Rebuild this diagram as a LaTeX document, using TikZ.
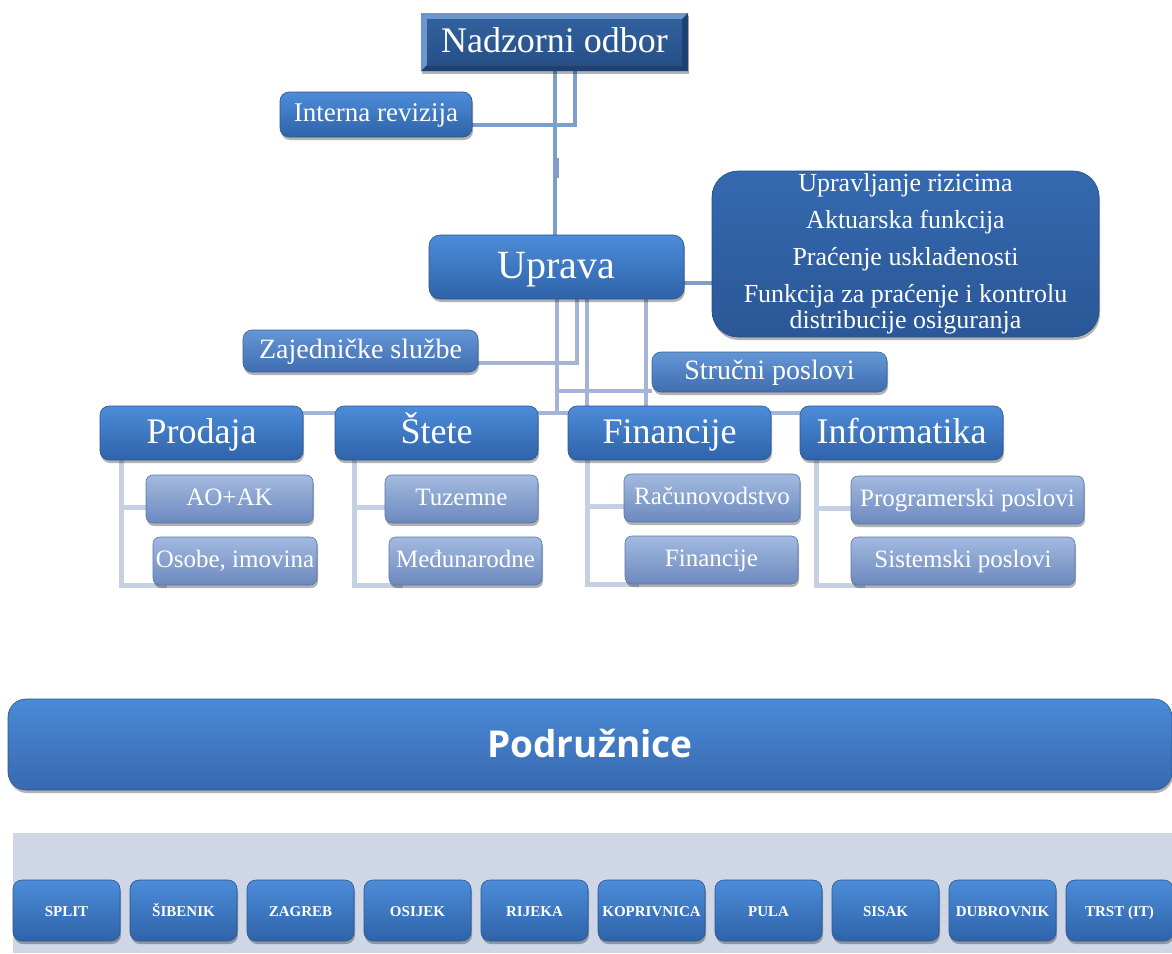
\documentclass[tikz,border=0pt]{standalone}
\usepackage{fontspec}
\setmainfont{Liberation Serif}
\newfontfamily\podfont{Open Sans}
\usetikzlibrary{shadows,calc}
\definecolor{mTop}{HTML}{4D8CD9}
\definecolor{mBot}{HTML}{2E63A9}
\definecolor{mLine}{HTML}{2A5690}
\definecolor{lTop}{HTML}{6496D6}
\definecolor{lBot}{HTML}{3F6DB0}
\definecolor{lLine}{HTML}{3A6299}
\definecolor{sTop}{HTML}{A3BAE0}
\definecolor{sBot}{HTML}{6C89BE}
\definecolor{sLine}{HTML}{5A76A8}
\definecolor{rTop}{HTML}{3569AF}
\definecolor{rBot}{HTML}{2A5797}
\definecolor{rLine}{HTML}{244D86}
\definecolor{nLight}{HTML}{6C97CC}
\definecolor{nDark}{HTML}{1F4170}
\definecolor{nTop}{HTML}{31619E}
\definecolor{nBot}{HTML}{274F86}
\definecolor{pTop}{HTML}{4A8AD6}
\definecolor{pBot}{HTML}{3869B0}
\definecolor{cA}{HTML}{7F9ECD}
\definecolor{cB}{HTML}{A3B4D4}
\definecolor{cT}{HTML}{C6D0E3}
\definecolor{bandc}{HTML}{CFD7E6}
\pgfdeclarelayer{bg}
\pgfsetlayers{bg,main}
\tikzset{
  box/.style={rounded corners=9pt, text=white, align=center, inner sep=2pt, line width=0.6pt,
    drop shadow={shadow xshift=1pt, shadow yshift=-3pt, opacity=0.3, fill=black}},
  oneline/.style 2 args={text height=#1, text depth=#2},
  mainbox/.style={box, top color=mTop, bottom color=mBot, draw=mLine},
  lightbox/.style={box, oneline={20pt}{5pt}, top color=lTop, bottom color=lBot, draw=lLine},
  subbox/.style={box, oneline={18pt}{4.5pt}, rounded corners=7pt, top color=sTop, bottom color=sBot, draw=sLine,
    minimum height=48pt, font=\fontsize{25}{28}\selectfont},
  lvlbox/.style={mainbox, oneline={26pt}{6pt}, minimum width=203pt, minimum height=54pt, font=\fontsize{36}{40}\selectfont},
  riskbox/.style={box, rounded corners=26pt, top color=rTop, bottom color=rBot, draw=rLine},
  podbox/.style={box, oneline={27pt}{2pt}, rounded corners=18pt, top color=pTop, bottom color=pBot, draw=mLine},
  city/.style={mainbox, oneline={12pt}{1pt}, minimum width=107pt, minimum height=61pt, font=\fontsize{15}{17}\selectfont\bfseries},
  nadbox/.style={fill=nLight, text=white, inner sep=0pt, oneline={26pt}{6pt},
    drop shadow={shadow xshift=1pt, shadow yshift=-3pt, opacity=0.3, fill=black},
    path picture={
      \fill[nDark] (path picture bounding box.south west) -- (path picture bounding box.south east)
        -- (path picture bounding box.north east) -- ([shift={(-6pt,-6pt)}]path picture bounding box.north east)
        -- ([shift={(-6pt,6pt)}]path picture bounding box.south east) -- ([shift={(6pt,6pt)}]path picture bounding box.south west) -- cycle;
      \fill[top color=nTop, bottom color=nBot] ([shift={(6pt,6pt)}]path picture bounding box.south west)
        rectangle ([shift={(-6pt,-6pt)}]path picture bounding box.north east);
    }},
  connA/.style={draw=cA, line width=4pt},
  connB/.style={draw=cB, line width=4pt},
  connT/.style={draw=cT, line width=5pt},
}
\begin{document}
\begin{tikzpicture}[x=1pt,y=-1pt]
\useasboundingbox (0,0) rectangle (1172,953);
\begin{pgfonlayer}{bg}
\fill[white] (0,0) rectangle (1172,953);
\end{pgfonlayer}

% top
\node[nadbox, minimum width=267pt, minimum height=58pt, font=\fontsize{36}{40}\selectfont] (nad) at (554.5,42) {Nadzorni odbor};
\node[mainbox, oneline={19.5pt}{5.5pt}, minimum width=192pt, minimum height=45pt, font=\fontsize{27}{30}\selectfont] (int) at (376,114.5) {Interna revizija};
\node[mainbox, oneline={29pt}{6pt}, rounded corners=11pt, minimum width=255pt, minimum height=64pt, font=\fontsize{40}{44}\selectfont] (upr) at (556.5,267) {Uprava};
\node[riskbox, minimum width=387pt, minimum height=166pt, font=\fontsize{26}{26}\selectfont] (risk) at (905.5,254)
  {Upravljanje rizicima\\[11pt]Aktuarska funkcija\\[11pt]Praćenje usklađenosti\\[11pt]Funkcija za praćenje i kontrolu\\distribucije osiguranja};
\node[lightbox, minimum width=235pt, minimum height=42pt, font=\fontsize{28}{30}\selectfont] (zaj) at (360.5,351) {Zajedničke službe};
\node[lightbox, minimum width=235pt, minimum height=40pt, font=\fontsize{28}{30}\selectfont] (stru) at (769.5,372) {Stručni poslovi};

% level 2
\node[lvlbox] (prod) at (201.5,433) {Prodaja};
\node[lvlbox] (stet) at (436.5,433) {Štete};
\node[lvlbox] (fin) at (669.5,433) {Financije};
\node[lvlbox] (info) at (901.5,433) {Informatika};

% sub boxes
\node[subbox, minimum width=167pt] (ao) at (229.5,499) {AO+AK};
\node[subbox, minimum width=164pt] (os) at (235,561) {Osobe, imovina};
\node[subbox, minimum width=153pt] (tuz) at (461.5,499) {Tuzemne};
\node[subbox, minimum width=153pt] (med) at (465.5,561) {Međunarodne};
\node[subbox, minimum width=176pt] (rac) at (712,498) {Računovodstvo};
\node[subbox, minimum width=173pt] (fin2) at (711.5,560) {Financije};
\node[subbox, minimum width=233pt] (prog) at (967.5,500) {Programerski poslovi};
\node[subbox, minimum width=224pt] (sis) at (963,561) {Sistemski poslovi};

% Podružnice
\node[podbox, minimum width=1164pt, minimum height=91pt, font=\podfont\bfseries\fontsize{37}{40}\selectfont] (pod) at (590,744.5) {Podružnice};
\node[fill=bandc, inner sep=0pt, minimum width=1159pt, minimum height=120pt, anchor=north west] (band) at (13,833) {};
\foreach \n [count=\i from 0] in {SPLIT,ŠIBENIK,ZAGREB,OSIJEK,RIJEKA,KOPRIVNICA,PULA,SISAK,DUBROVNIK,TRST (IT)}
  \node[city] (c\i) at ({66.5+117*\i},910.5) {\n};

% connectors
\begin{pgfonlayer}{bg}
\draw[connA] (nad.south) -- (nad.south |- upr.north);
\coordinate (tk) at ($(nad.south)+(3,87)$);
\draw[connA, line width=3pt] (tk) -- ++(0,20);
\draw[connA] ($(nad.south)+(20,0)$) |- ([yshift=-10pt]int.east);
\draw[connA] ([yshift=-16pt]upr.east) -- ([yshift=-16pt]upr.east -| risk.west);
\coordinate (bus) at (557,413);
\draw[connB] ($(upr.south)+(20.5,0)$) |- ([yshift=-12pt]zaj.east);
\draw[connB] (upr.south -| bus) -- (bus);
\draw[connB] (upr.south -| bus) |- ([yshift=-19pt]stru.west);
\coordinate (u3) at ($(upr.south)+(30.5,0)$);
\draw[connB] (u3) -- (u3 |- fin.north);
\coordinate (u4) at ($(upr.south)+(89.5,0)$);
\draw[connB] (u4) -- (u4 |- fin.north);
\draw[connB] (prod.east |- bus) -- (info.west |- bus);
\foreach \p/\a/\b/\dx in {prod/ao/os/22, stet/tuz/med/20, fin/rac/fin2/20, info/prog/sis/17} {
  \coordinate (t) at ($(\p.south west)+(\dx,0)$);
  \draw[connT] (t) |- ([yshift=-8pt]\a.west);
  \draw[connT] (t) |- ($(\b.south west)+(14,0)$);
}
\end{pgfonlayer}
\end{tikzpicture}
\end{document}
